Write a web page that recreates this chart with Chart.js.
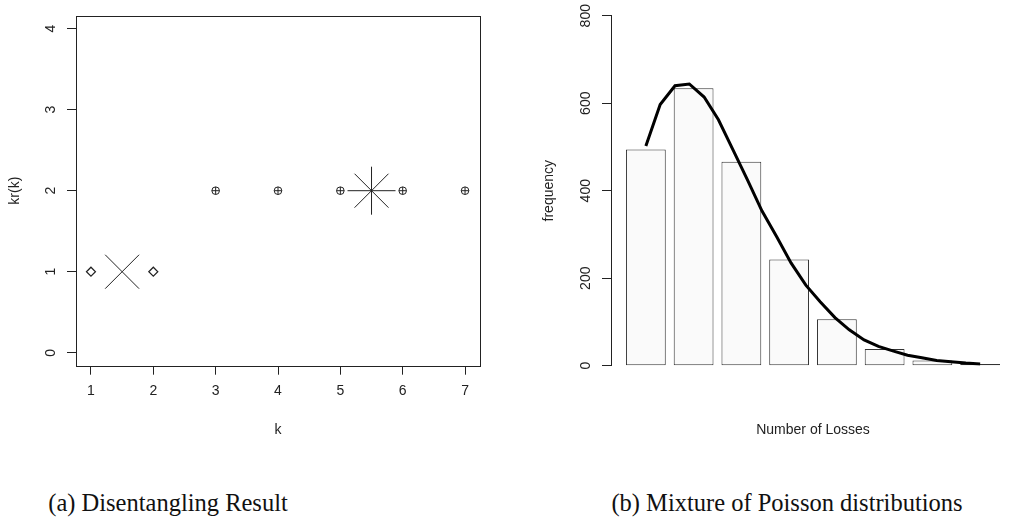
<!DOCTYPE html>
<html lang="en">
<head>
<meta charset="UTF-8">
<title>Disentangling result / Mixture of Poisson distributions</title>
<script src="https://cdn.jsdelivr.net/npm/chart.js"></script>
<style>
  body { margin: 0; background: #fff; width: 1030px; height: 523px; position: relative; overflow: hidden; }
  .panel { position: absolute; top: 0; width: 515px; height: 460px; }
  .caption { position: absolute; top: 489px; font-family: "Liberation Serif", serif; font-size: 24.5px; line-height: 28px; text-align: center; color: #111; white-space: nowrap; }
</style>
</head>
<body>
<div class="panel" style="left:0"><canvas id="left-chart" width="515" height="460"></canvas></div>
<div class="panel" style="left:515px"><canvas id="right-chart" width="515" height="460"></canvas></div>
<div class="caption" style="left:0;width:336px">(a) Disentangling Result</div>
<div class="caption" style="left:537px;width:500px">(b) Mixture of Poisson distributions</div>

<script>
// (a) disentangling: cluster of each k, plus cluster centres
const kValues = [1, 2, 3, 4, 5, 6, 7];
const krValues = [1, 1, 2, 2, 2, 2, 2];
const centerK = [1.5, 5.5];
const centerKr = [1, 2];

// (b) observed loss counts and fitted mixture curve
const losses = [0, 1, 2, 3, 4, 5, 6, 7];
const frequency = [494, 634, 466, 243, 106, 38, 12, 4];
const fitLosses = [0, 0.30, 0.61, 0.91, 1.22, 1.52, 1.83, 2.13, 2.43, 2.74, 3.04, 3.35,
                   3.65, 3.96, 4.26, 4.57, 4.87, 5.17, 5.48, 5.78, 6.09, 6.39, 6.70, 7.00];
const fitFrequency = [502, 597, 640, 644, 614, 562, 492, 424, 354, 295, 235, 184,
                      146, 110, 82, 59, 44, 34, 24, 18, 12, 9, 6, 4];

const font = { family: '"Liberation Sans", Arial, sans-serif', size: 14 };
const ink = '#222';

const boxPlugin = {
  id: 'box',
  afterDraw(chart) {
    const a = chart.chartArea, ctx = chart.ctx;
    ctx.save();
    ctx.strokeStyle = ink;
    ctx.lineWidth = 1;
    const l = Math.round(a.left) + 0.5, t = Math.round(a.top) + 0.5;
    ctx.strokeRect(l, t, Math.round(a.right) - Math.round(a.left), Math.round(a.bottom) - Math.round(a.top));
    ctx.restore();
  }
};

// fixed axis sizes so both plot regions line up like the R layout
function fixHeight(h) {
  return s => { s.height = h; s.paddingLeft = 0; s.paddingRight = 0; };
}
function fixWidth(w) {
  return s => { s.width = w; s.paddingTop = 0; s.paddingBottom = 0; };
}

function pick(xs, ys, group) {
  const out = [];
  xs.forEach((x, i) => { if (ys[i] === group) out.push({ x: x, y: ys[i] }); });
  return out;
}

function marker(data, style, radius, width) {
  return {
    data: data,
    pointStyle: style,
    pointRadius: radius,
    pointHoverRadius: radius,
    borderColor: ink,
    borderWidth: width,
    backgroundColor: 'rgba(0,0,0,0)'
  };
}

const centers = centerK.map((k, i) => ({ x: k, y: centerKr[i] }));

new Chart(document.getElementById('left-chart'), {
  type: 'scatter',
  data: {
    datasets: [
      marker(pick(kValues, krValues, 1), 'rectRot', 4.5, 1.2),
      marker(pick(kValues, krValues, 2), 'circle', 3.8, 1),
      marker(pick(kValues, krValues, 2), 'cross', 3.8, 1),
      marker([centers[0]], 'crossRot', 24, 1),
      marker([centers[1]], 'star', 24, 1)
    ]
  },
  options: {
    responsive: false,
    animation: false,
    devicePixelRatio: 1,
    layout: { autoPadding: false, padding: { top: 15.7, right: 35, bottom: 0, left: 0 } },
    plugins: { legend: { display: false }, tooltip: { enabled: false } },
    scales: {
      x: {
        type: 'linear', min: 0.76, max: 7.24,
        afterFit: fixHeight(94.3),
        border: { display: false },
        grid: { drawOnChartArea: false, tickLength: 9, color: ink },
        ticks: { stepSize: 1, includeBounds: false, maxRotation: 0, padding: 8, color: ink, font: font },
        title: { display: true, text: 'k', color: ink, font: font, padding: { top: 0, bottom: 21.6 } }
      },
      y: {
        min: -0.16, max: 4.16,
        afterFit: fixWidth(76),
        border: { display: false },
        grid: { drawOnChartArea: false, tickLength: 9, color: ink },
        ticks: { stepSize: 1, includeBounds: false, minRotation: 90, maxRotation: 90, crossAlign: 'center', padding: 12, color: ink, font: font },
        title: { display: true, text: 'kr(k)', color: ink, font: font, padding: { top: 7, bottom: 0 } }
      }
    }
  },
  plugins: [boxPlugin]
});

new Chart(document.getElementById('right-chart'), {
  type: 'bar',
  data: {
    datasets: [
      {
        type: 'line',
        data: fitLosses.map((x, i) => ({ x: x, y: fitFrequency[i] })),
        borderColor: '#000',
        borderWidth: 3,
        pointRadius: 0,
        tension: 0,
        order: 1
      },
      {
        type: 'bar',
        data: losses.map((x, i) => ({ x: x, y: frequency[i] })),
        backgroundColor: '#fafafa',
        borderColor: '#333',
        borderWidth: 1,
        borderSkipped: false,
        categoryPercentage: 1,
        barPercentage: 1 / 1.2,
        order: 2
      }
    ]
  },
  options: {
    responsive: false,
    animation: false,
    devicePixelRatio: 1,
    layout: { autoPadding: false, padding: { top: 15.7, right: 15, bottom: 0, left: 0 } },
    plugins: { legend: { display: false }, tooltip: { enabled: false } },
    scales: {
      x: {
        type: 'linear', min: -0.73, max: 7.73, offset: false,
        afterFit: fixHeight(94.3),
        border: { display: false },
        grid: { display: false, offset: false },
        ticks: { display: false },
        title: { display: true, text: 'Number of Losses', color: ink, font: font, padding: { top: 0, bottom: 21.6 } }
      },
      y: {
        min: 0, max: 800,
        afterFit: fixWidth(96),
        border: { display: true, color: ink },
        grid: { drawOnChartArea: false, tickLength: 9, color: ink },
        ticks: { stepSize: 200, minRotation: 90, maxRotation: 90, crossAlign: 'center', padding: 4.5, color: ink, font: font },
        title: { display: true, text: 'frequency', color: ink, font: font, padding: { top: 25.6, bottom: 0 } }
      }
    }
  }
});
</script>
</body>
</html>
